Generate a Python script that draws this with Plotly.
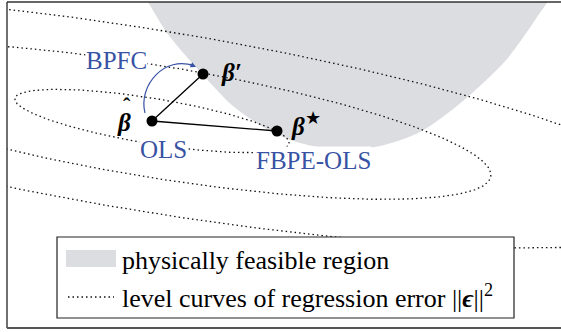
import numpy as np
import plotly.graph_objects as go

# ---------------- schematic data (plane coordinates, y pointing up) ----------------
# estimates: OLS (beta-hat), BPFC (beta-prime), FBPE-OLS (beta-star)
point_names = ["OLS", "BPFC", "FBPE-OLS"]
point_x = [152, 203, 277]
point_y = [211, 258, 201]

# level curves of the regression error: similar ellipses centred on the OLS estimate
ellipse_center = [152, 211]
ellipse_semi_axes = [139, 22.7]
ellipse_angle_deg = -9.3
ellipse_levels = [1.0, 2.47, 4.0]

# boundary of the physically feasible region
region_x = [135, 147, 167, 193, 203, 233, 270, 300, 340, 380, 420, 463, 507, 547, 560]
region_y = [345, 331, 299, 268, 257, 226, 201, 189, 182, 186, 200, 231, 273, 329, 345]

# BPFC arc control points (cubic Bezier)
arc_pts = [(145, 219), (138, 247), (165, 277), (194, 266)]

GRAY = "#dcdde0"
BLUE = "#3853a4"
DOT = "1.5px,3px"
SERIF = "Liberation Serif"

fig = go.Figure()

# feasible region
fig.add_trace(go.Scatter(
    x=region_x, y=region_y, mode="lines", fill="toself", fillcolor=GRAY,
    line=dict(width=0, color=GRAY, shape="spline", smoothing=0.8), hoverinfo="skip"))

# level curves
t = np.linspace(0, 2 * np.pi, 600)
th = np.radians(ellipse_angle_deg)
a, b = ellipse_semi_axes
cx, cy = ellipse_center
for s in ellipse_levels:
    ex = cx + s * (a * np.cos(t) * np.cos(th) - b * np.sin(t) * np.sin(th))
    ey = cy + s * (a * np.cos(t) * np.sin(th) + b * np.sin(t) * np.cos(th))
    fig.add_trace(go.Scatter(x=ex, y=ey, mode="lines",
                             line=dict(color="#111111", width=1.3, dash=DOT),
                             hoverinfo="skip"))

# segments OLS -> BPFC and OLS -> FBPE-OLS
fig.add_trace(go.Scatter(
    x=[point_x[1], point_x[0], point_x[2]], y=[point_y[1], point_y[0], point_y[2]],
    mode="lines", line=dict(color="black", width=1.3), hoverinfo="skip"))

# points
fig.add_trace(go.Scatter(x=point_x, y=point_y, mode="markers",
                         marker=dict(color="black", size=11), hoverinfo="skip"))

shapes = []
# BPFC arc
p0, p1, p2, p3 = arc_pts
shapes.append(dict(type="path", xref="x", yref="y",
                   path=f"M{p0[0]},{p0[1]} C{p1[0]},{p1[1]} {p2[0]},{p2[1]} {p3[0]},{p3[1]}",
                   line=dict(color=BLUE, width=1.2)))

# legend box
shapes.append(dict(type="rect", xref="x", yref="y", x0=57, x1=514, y0=14, y1=95,
                   fillcolor="white", line=dict(color="#222", width=1.2), layer="above"))
shapes.append(dict(type="rect", xref="x", yref="y", x0=66, x1=116, y0=65, y1=82,
                   fillcolor=GRAY, line=dict(width=0), layer="above"))
shapes.append(dict(type="line", xref="x", yref="y", x0=68, x1=114, y0=35, y1=35,
                   line=dict(color="#111111", width=1.3, dash=DOT), layer="above"))

# frame
shapes.append(dict(type="line", xref="paper", yref="paper", x0=0, x1=0, y0=0, y1=1,
                   line=dict(color="#333", width=1.4)))
shapes.append(dict(type="line", xref="paper", yref="paper", x0=0, x1=1, y0=1, y1=1,
                   line=dict(color="#333", width=1.4)))
shapes.append(dict(type="line", xref="paper", yref="paper", x0=0, x1=1, y0=0, y1=0,
                   line=dict(color="#555", width=1.8)))

annotations = []
# arrow head of BPFC arc
annotations.append(dict(x=p3[0] + 2, y=p3[1] - 1, ax=p3[0] - 6, ay=p3[1] + 2.5,
                        xref="x", yref="y", axref="x", ayref="y", text="",
                        showarrow=True, arrowhead=2, arrowsize=0.9, arrowwidth=1.2,
                        arrowcolor=BLUE))


def label(txt, x, y, color="black", size=25, bg=None, xanchor="center"):
    d = dict(x=x, y=y, xref="x", yref="y", text=txt, showarrow=False,
             font=dict(family=SERIF, size=size, color=color),
             xanchor=xanchor, yanchor="middle", borderpad=0)
    if bg:
        d["bgcolor"] = bg
    annotations.append(d)


label("BPFC", 116.5, 272, BLUE, bg="white")
label("OLS", 163, 183, BLUE, bg="white")
label("FBPE-OLS", 313, 172, BLUE, bg="white")
label("<b><i>β</i></b>", 124, 210)
label("<b>ˆ</b>", 127, 227, size=22)
label("<b><i>β′</i></b>", 231, 260)
label("<b><i>β</i></b><sup>★</sup>", 306, 208)

label("physically feasible region", 121, 72, size=26, xanchor="left")
label("level curves of regression error ||<b><i>ϵ</i></b>||<sup>2</sup>", 121, 36,
      size=26, xanchor="left")

fig.update_layout(
    width=561, height=332,
    margin=dict(l=7, r=0, t=2, b=4),
    paper_bgcolor="white", plot_bgcolor="white",
    showlegend=False,
    font=dict(family=SERIF),
    xaxis=dict(range=[7, 561], visible=False, fixedrange=True),
    yaxis=dict(range=[4, 330], visible=False, fixedrange=True),
    shapes=shapes, annotations=annotations,
)

fig.write_html("out.html")
